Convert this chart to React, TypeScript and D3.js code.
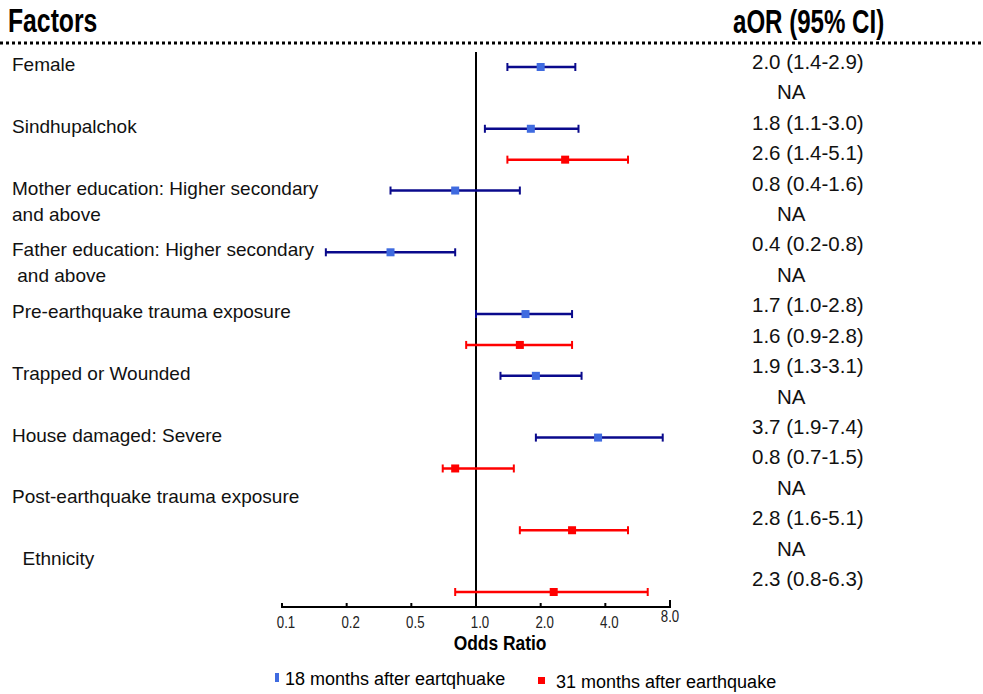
import React from 'react'
import * as d3 from 'd3'

// factors (one label per factor, \n = line break)
const factors = [
  'Female',
  'Sindhupalchok',
  'Mother education: Higher secondary\nand above',
  'Father education: Higher secondary\n and above',
  'Pre-earthquake trauma exposure',
  'Trapped or Wounded',
  'House damaged: Severe',
  'Post-earthquake trauma exposure',
  '  Ethnicity',
]

// 18 months after earthquake
const or18 = [2.0, 1.8, 0.8, 0.4, 1.7, 1.9, 3.7, null, null]
const lo18 = [1.4, 1.1, 0.4, 0.2, 1.0, 1.3, 1.9, null, null]
const hi18 = [2.9, 3.0, 1.6, 0.8, 2.8, 3.1, 7.4, null, null]

// 31 months after earthquake
const or31 = [null, 2.6, null, null, 1.6, null, 0.8, 2.8, 2.3]
const lo31 = [null, 1.4, null, null, 0.9, null, 0.7, 1.6, 0.8]
const hi31 = [null, 5.1, null, null, 2.8, null, 1.5, 5.1, 6.3]

const tickValues = [0.125, 0.25, 0.5, 1, 2, 4, 8]
const tickLabels = ['0.1', '0.2', '0.5', '1.0', '2.0', '4.0', '8.0']

const BLUE_LINE = '#0a0a8c'
const BLUE_DOT = '#3f6be0'
const RED = '#ff0000'
const FONT = '"Liberation Sans", Arial, sans-serif'

type Row = {slot: number, or: number | null, lo: number | null, hi: number | null, color: string, dot: string}

export default function App() {
  const width = 983
  const height = 694

  const x = d3.scaleLog().base(2).domain([0.125, 8]).range([282, 670])
  const nSlots = factors.length * 2
  const rowY = d3.scaleLinear().domain([0, nSlots - 1]).range([67, 592])
  const textY = d3.scaleLinear().domain([0, nSlots - 1]).range([69, 586])
  const axisY = 607

  const rows: Row[] = []
  factors.forEach((_, i) => {
    rows.push({slot: 2 * i, or: or18[i], lo: lo18[i], hi: hi18[i], color: BLUE_LINE, dot: BLUE_DOT})
    rows.push({slot: 2 * i + 1, or: or31[i], lo: lo31[i], hi: hi31[i], color: RED, dot: RED})
  })

  const fmt = (v: number) => v.toFixed(1)

  return <svg width={width} height={height} style={{position: 'absolute', left: 0, top: 0, display: 'block', background: 'white'}}
    fontFamily={FONT}>
    {/* header */}
    <text transform="translate(8,32) scale(0.75,1)" fontSize={33} fontWeight="bold">Factors</text>
    <text transform="translate(733,33) scale(0.73,1)" fontSize={33} fontWeight="bold">aOR (95% CI)</text>
    <line x1={0} x2={width} y1={43} y2={43} stroke="black" strokeWidth={3} strokeDasharray="3 3" />

    {/* factor labels */}
    {factors.map((label, i) => <text key={label} x={12} y={rowY(2 * i) + 4} fontSize={19} fill="#111" style={{whiteSpace: 'pre'}}>
      {label.split('\n').map((line, j) => <tspan key={j} x={12} dy={j === 0 ? 0 : 26}>{line}</tspan>)}
    </text>)}

    {/* reference line at OR = 1 */}
    <line x1={x(1)} x2={x(1)} y1={52} y2={axisY} stroke="black" strokeWidth={2} />

    {/* intervals */}
    {rows.filter(r => r.or != null).map(r => {
      const y = rowY(r.slot)
      const x0 = x(r.lo as number)
      const x1 = x(r.hi as number)
      const xm = x(r.or as number)
      return <g key={r.slot}>
        <line x1={x0} x2={x1} y1={y} y2={y} stroke={r.color} strokeWidth={2.5} />
        <line x1={x0} x2={x0} y1={y - 4} y2={y + 4} stroke={r.color} strokeWidth={2} />
        <line x1={x1} x2={x1} y1={y - 4} y2={y + 4} stroke={r.color} strokeWidth={2} />
        <rect x={xm - 4} y={y - 4} width={8} height={8} fill={r.dot} />
      </g>
    })}

    {/* aOR column */}
    {rows.map(r => <text key={r.slot} x={r.or == null ? 777 : 752} y={textY(r.slot)} fontSize={20.5} fill="#111">
      {r.or == null ? 'NA' : `${fmt(r.or)} (${fmt(r.lo as number)}-${fmt(r.hi as number)})`}
    </text>)}

    {/* x axis */}
    <line x1={x(tickValues[0])} x2={x(tickValues[tickValues.length - 1])} y1={axisY} y2={axisY} stroke="black" strokeWidth={2} />
    {tickValues.map((t, i) => {
      const last = i === tickValues.length - 1
      return <g key={t}>
        <line x1={x(t)} x2={x(t)} y1={axisY - (last ? 7 : 4)} y2={axisY + 1} stroke="black" strokeWidth={2} />
        <text transform={`translate(${x(t) + (last ? 0 : 4)},${last ? 622 : 628}) scale(0.78,1)`} fontSize={17} textAnchor="middle" fill="#222">{tickLabels[i]}</text>
      </g>
    })}
    <text transform={`translate(${x(1) + 24},650) scale(0.87,1)`} fontSize={20} fontWeight="bold" textAnchor="middle">Odds Ratio</text>

    {/* legend */}
    <rect x={275} y={673} width={4} height={9} fill={BLUE_DOT} />
    <text x={285} y={685} fontSize={18}>18 months after eartqhuake</text>
    <rect x={538} y={677} width={7} height={7} fill={RED} />
    <text x={556} y={688} fontSize={18}>31 months after earthquake</text>
  </svg>
}
